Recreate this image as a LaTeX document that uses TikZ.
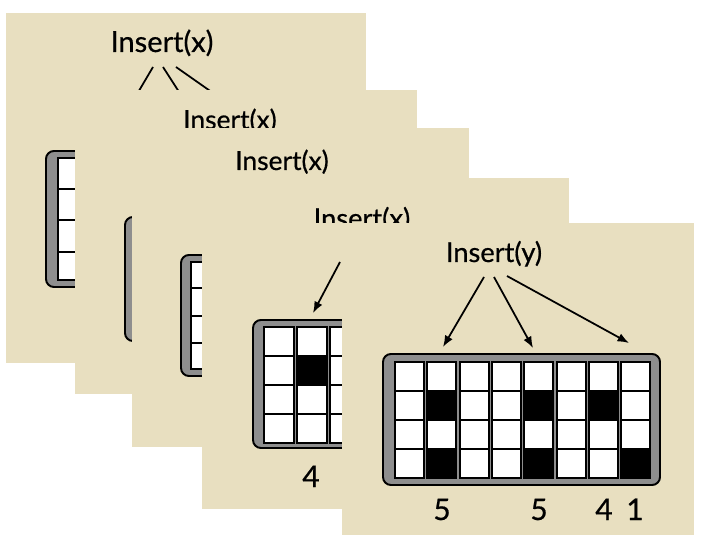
\documentclass[tikz,border=0pt]{standalone}
\usepackage{fontspec}
\setmainfont{Lato}[FakeBold=0.6]
\usepackage{tikz}
\usepackage{xcolor}
\usetikzlibrary{arrows.meta}
\definecolor{cardbeige}{RGB}{232,223,192}
\definecolor{framegray}{RGB}{142,142,142}

\begin{document}
\begin{tikzpicture}[x=0.02cm,y=-0.02cm,
  card/.style={fill=cardbeige},
  frame/.style={fill=framegray,draw=black,line width=1.1pt,rounded corners=4.5pt},
  slot/.style={fill=white,draw=black,line width=0.85pt},
  hit/.style={fill=black,draw=black,line width=0.85pt},
  arr/.style={-{Latex[length=6.5pt,width=5pt]},line width=1pt},
  lbl/.style={inner sep=0pt,anchor=base}]
\useasboundingbox (0,0) rectangle (720,540);
% first slide
\fill[card] (6,13) rectangle (366,363);
\node[lbl,font=\fontsize{16.5}{19}\selectfont] (ins1) at (162,52) {Insert(x)};
\coordinate (t1a) at (153,67);
\coordinate (t1b) at (163,67);
\coordinate (t1c) at (176,67);
\coordinate (h1a) at (110,140);
\coordinate (h1b) at (210,140);
\coordinate (h1c) at (280,140);
\draw[arr] (t1a) -- (h1a);
\draw[arr] (t1b) -- (h1b);
\draw[arr] (t1c) -- (h1c);
\draw[frame] (46,151) rectangle (330,287);
\draw[slot] (58,158) rectangle (86,280) (58,189) -- (86,189) (58,220) -- (86,220) (58,252) -- (86,252);
% second slide
\fill[card] (75,90) rectangle (417,394);
\node[lbl,font=\fontsize{15}{18}\selectfont] (ins2) at (230,129) {Insert(x)};
\draw[frame] (125,217) rectangle (400,341);
% third slide
\fill[card] (132,128) rectangle (469,447);
\node[lbl,font=\fontsize{15}{18}\selectfont] (ins3) at (282,170) {Insert(x)};
\draw[frame] (181,255) rectangle (440,376);
\draw[slot] (191,262) rectangle (219,369) (191,288) -- (219,288) (191,316) -- (219,316) (191,343) -- (219,343);
% fourth slide
\fill[card] (202,178) rectangle (569,509);
\begin{scope}
\clip (202,178) rectangle (569,223);
\node[lbl,font=\fontsize{15.5}{18}\selectfont] (ins4) at (362,228) {Insert(x)};
\end{scope}
\coordinate (t4a) at (340,262);
\coordinate (h4a) at (313,313);
\draw[arr] (t4a) -- (h4a);
\draw[frame] (253,320) rectangle (540,448);
\draw[slot] (264,327) rectangle (294,443) (264,356) -- (294,356) (264,385) -- (294,385) (264,414) -- (294,414);
\draw[slot] (297,327) rectangle (327,443) (297,356) -- (327,356) (297,385) -- (327,385) (297,414) -- (327,414);
\draw[slot] (330,327) rectangle (360,443) (330,356) -- (360,356) (330,385) -- (360,385) (330,414) -- (360,414);
\filldraw[hit] (297,356) rectangle (327,385);
\node[lbl,font=\fontsize{17}{20}\selectfont] (cnt4) at (311,487) {4};
% last slide
\fill[card] (342,223) rectangle (694,535);
\node[lbl,font=\fontsize{15.5}{18}\selectfont] (insy) at (494,262) {Insert(y)};
\coordinate (tya) at (484,277);
\coordinate (tyb) at (494,277);
\coordinate (tyc) at (507,276);
\coordinate (hya) at (443,347);
\coordinate (hyb) at (533,348);
\coordinate (hyc) at (629,343);
\draw[arr] (tya) -- (hya);
\draw[arr] (tyb) -- (hyb);
\draw[arr] (tyc) -- (hyc);
\draw[frame] (383,354) rectangle (660,485);
\draw[slot] (395,362) rectangle (424,478) (395,391) -- (424,391) (395,420) -- (424,420) (395,449) -- (424,449);
\draw[slot] (427,362) rectangle (456,478) (427,391) -- (456,391) (427,420) -- (456,420) (427,449) -- (456,449);
\draw[slot] (460,362) rectangle (489,478) (460,391) -- (489,391) (460,420) -- (489,420) (460,449) -- (489,449);
\draw[slot] (492,362) rectangle (521,478) (492,391) -- (521,391) (492,420) -- (521,420) (492,449) -- (521,449);
\draw[slot] (524,362) rectangle (553,478) (524,391) -- (553,391) (524,420) -- (553,420) (524,449) -- (553,449);
\draw[slot] (557,362) rectangle (586,478) (557,391) -- (586,391) (557,420) -- (586,420) (557,449) -- (586,449);
\draw[slot] (589,362) rectangle (618,478) (589,391) -- (618,391) (589,420) -- (618,420) (589,449) -- (618,449);
\draw[slot] (621,362) rectangle (650,478) (621,391) -- (650,391) (621,420) -- (650,420) (621,449) -- (650,449);
\filldraw[hit] (427,391) rectangle (456,420);
\filldraw[hit] (427,449) rectangle (456,478);
\filldraw[hit] (524,391) rectangle (553,420);
\filldraw[hit] (524,449) rectangle (553,478);
\filldraw[hit] (589,391) rectangle (618,420);
\filldraw[hit] (621,449) rectangle (650,478);
\node[lbl,font=\fontsize{17}{20}\selectfont] (cnta) at (442,520) {5};
\node[lbl,font=\fontsize{17}{20}\selectfont] (cntb) at (539,520) {5};
\node[lbl,font=\fontsize{17}{20}\selectfont] (cntc) at (604,520) {4};
\node[lbl,font=\fontsize{17}{20}\selectfont] (cntd) at (635,520) {1};
\end{tikzpicture}
\end{document}
